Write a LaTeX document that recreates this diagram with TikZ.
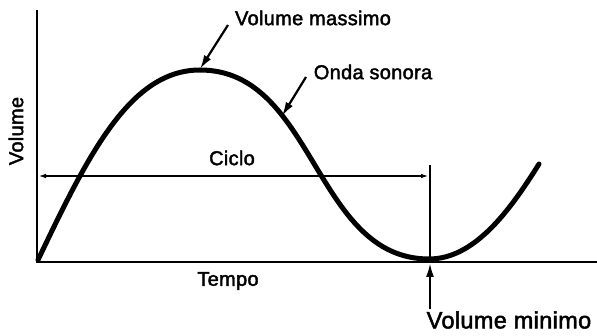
\documentclass[tikz,border=0pt]{standalone}
\usepackage{fontspec}
\setmainfont{Liberation Sans}[LetterSpace=1.5,FakeBold=2]
\usetikzlibrary{arrows.meta}
\begin{document}
\begin{tikzpicture}[x=1pt,y=-1pt,
  lbl/.style={inner sep=0pt,font=\fontsize{20}{22}\selectfont},
  biglbl/.style={inner sep=0pt,font=\fontsize{23.5}{26}\selectfont},
  axis/.style={line width=2.6pt},
  wave/.style={line width=5pt,line join=round,line cap=round},
  thinline/.style={line width=1.6pt},
  bigarrow/.style={line width=2.2pt,-{Latex[length=14pt,width=8pt]}},
  smallarrow/.style={thinline,{Latex[length=8pt,width=4.5pt]}-{Latex[length=8pt,width=4.5pt]}}]
\useasboundingbox (0,0) rectangle (597,336);
% axes
\coordinate (O) at (37,262);
\coordinate (ytop) at (37,10);
\coordinate (xend) at (597,262);
\draw[axis] (ytop) -- (O) -- (xend);
% wave
\coordinate (w0) at (38,260);
\coordinate (wmax) at (200,70);
\coordinate (wmin) at (429,259);
\coordinate (wend) at (539,164);
\draw[wave] (w0) .. controls (88,155) and (130,70) .. (wmax)
  .. controls (315,70) and (314,259) .. (wmin)
  .. controls (474,259) and (509,212) .. (wend);
% cycle
\coordinate (cl) at (38,176);
\coordinate (cr) at (429,176);
\coordinate (vtop) at (430,165);
\coordinate (vbot) at (430,262);
\draw[smallarrow] (cl) -- (cr);
\draw[thinline] (vtop) -- (vbot);
% labels
\node[lbl] (ciclo) at (232,158) {Ciclo};
\node[lbl] (tempo) at (228,281) {Tempo};
\node[lbl,rotate=90] (vol) at (16,131) {Volume};
\node[lbl] (vmax) at (313,18) {Volume massimo};
\node[lbl] (onda) at (373,72) {Onda sonora};
\node[biglbl] (vmin) at (509,320) {Volume minimo};
% pointers
\coordinate (pmax) at (200,69);
\coordinate (pmaxs) at (228,25);
\coordinate (ponda) at (282,116);
\coordinate (pondas) at (306,77);
\coordinate (pmin) at (430,263);
\coordinate (pmins) at (430,309);
\draw[bigarrow] (pmaxs) -- (pmax);
\draw[bigarrow] (pondas) -- (ponda);
\draw[bigarrow] (pmins) -- (pmin);
\end{tikzpicture}
\end{document}
